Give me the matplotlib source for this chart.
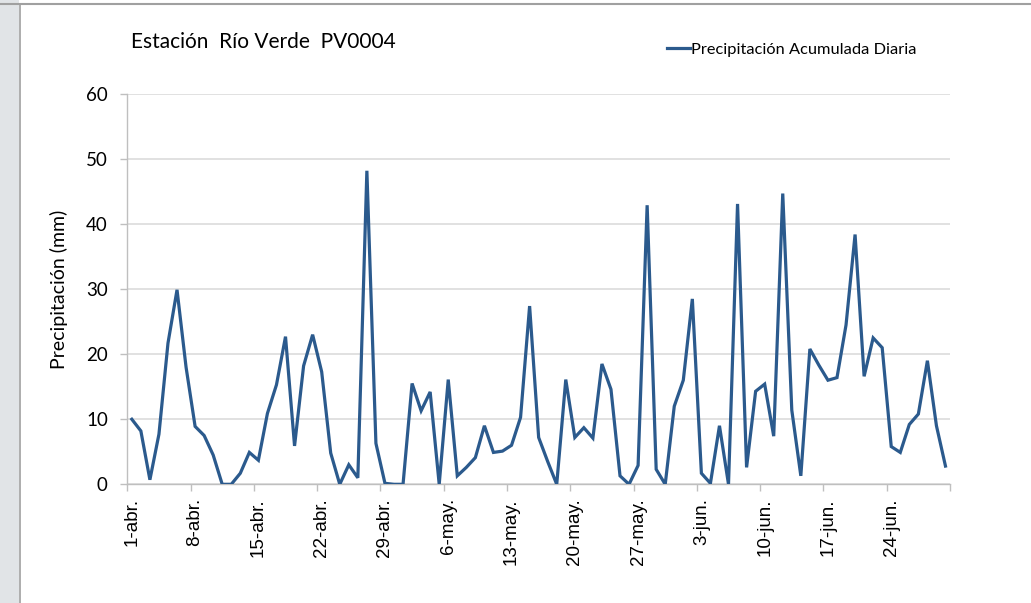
import matplotlib.pyplot as plt
import numpy as np
import pandas as pd
from matplotlib.patches import Rectangle
from matplotlib.lines import Line2D

# Daily precipitation, 1 Apr - 30 Jun (mm)
fechas = pd.date_range("2013-04-01", "2013-06-30", freq="D")
precip = [10.0, 8.2, 0.7, 7.7, 21.7, 29.9, 18.0, 8.9, 7.5, 4.5,
          0.0, 0.0, 1.7, 4.9, 3.7, 10.9, 15.3, 22.7, 5.9, 18.2,
          23.0, 17.3, 4.8, 0.0, 3.0, 1.0, 48.2, 6.3, 0.15, 0.0,
          0.0, 15.5, 11.3, 14.2, 0.0, 16.1, 1.3, 2.6, 4.1, 9.0,
          4.9, 5.1, 6.0, 10.3, 27.4, 7.2, 3.5, 0.0, 16.1, 7.2,
          8.7, 7.1, 18.5, 14.6, 1.3, 0.0, 2.9, 42.9, 2.3, 0.0,
          12.0, 16.0, 28.5, 1.7, 0.15, 9.0, 0.0, 43.1, 2.6, 14.3,
          15.4, 7.4, 44.7, 11.4, 1.3, 20.8, 18.3, 16.0, 16.4, 24.5,
          38.4, 16.6, 22.5, 21.0, 5.8, 4.9, 9.2, 10.8, 19.0, 9.0,
          2.8]
meses = {4: "abr", 5: "may", 6: "jun"}
titulo = "Estación  Río Verde  PV0004"
serie = "Precipitación Acumulada Diaria"

plt.rcParams['font.family'] = ['Lato', 'DejaVu Sans']

fig = plt.figure(figsize=(10.31, 6.03), dpi=100)
fig.patch.set_facecolor('white')

# window frame: grey strip on the left, thin line on top
fig.patches.append(Rectangle((0, 0), 19 / 1031, 1, transform=fig.transFigure,
                             facecolor='#e1e4e7', edgecolor='none', zorder=0))
fig.add_artist(Line2D([19.5 / 1031, 19.5 / 1031], [0, 1 - 4 / 603],
                      transform=fig.transFigure, color='#a0a0a0', lw=1.2))
fig.add_artist(Line2D([0, 1], [1 - 4 / 603, 1 - 4 / 603],
                      transform=fig.transFigure, color='#a0a0a0', lw=1.5))

ax = fig.add_axes([127.3 / 1031, 118.7 / 603, 822.7 / 1031, 390.3 / 603])
x = np.arange(len(fechas))
ax.plot(x, precip, color='#2b5a8d', lw=2.3, solid_joinstyle='miter',
        label=serie, zorder=3)

ax.set_xlim(-0.5, len(fechas) - 0.5)
ax.set_ylim(0, 60)
ax.set_yticks(np.arange(0, 61, 10))
ax.yaxis.grid(True, color='#d9d9d9', lw=1.1)
ax.set_axisbelow(True)

pos = x[::7]
ax.set_xticks(pos)
ax.set_xticklabels([f"{fechas[i].day}-{meses[fechas[i].month]}." for i in pos],
                   rotation=90, family=['Liberation Sans'], fontsize=13.5)
ax.set_xticks(np.arange(-0.5, len(fechas), 7), minor=True)
ax.tick_params(axis='x', which='major', length=0, pad=10)
ax.tick_params(axis='x', which='minor', length=5, color='#bfbfbf', width=1)
ax.tick_params(axis='y', length=5, color='#bfbfbf', width=1, labelsize=13.5, pad=9)

for s in ['top', 'right']:
    ax.spines[s].set_visible(False)
for s in ['left', 'bottom']:
    ax.spines[s].set_color('#bfbfbf')
    ax.spines[s].set_linewidth(1)

ax.set_ylabel("Precipitación (mm)", fontsize=14, labelpad=13)

fig.text(131 / 1031, 1 - 42 / 603, titulo, fontsize=15, va='center', ha='left')
ax.legend(loc='center left', bbox_to_anchor=(660 / 1031, 1 - 50 / 603),
          bbox_transform=fig.transFigure, frameon=False, fontsize=11.8,
          handlelength=1.4, handletextpad=0.1, borderaxespad=0)

fig.savefig("out.png", dpi=100)
